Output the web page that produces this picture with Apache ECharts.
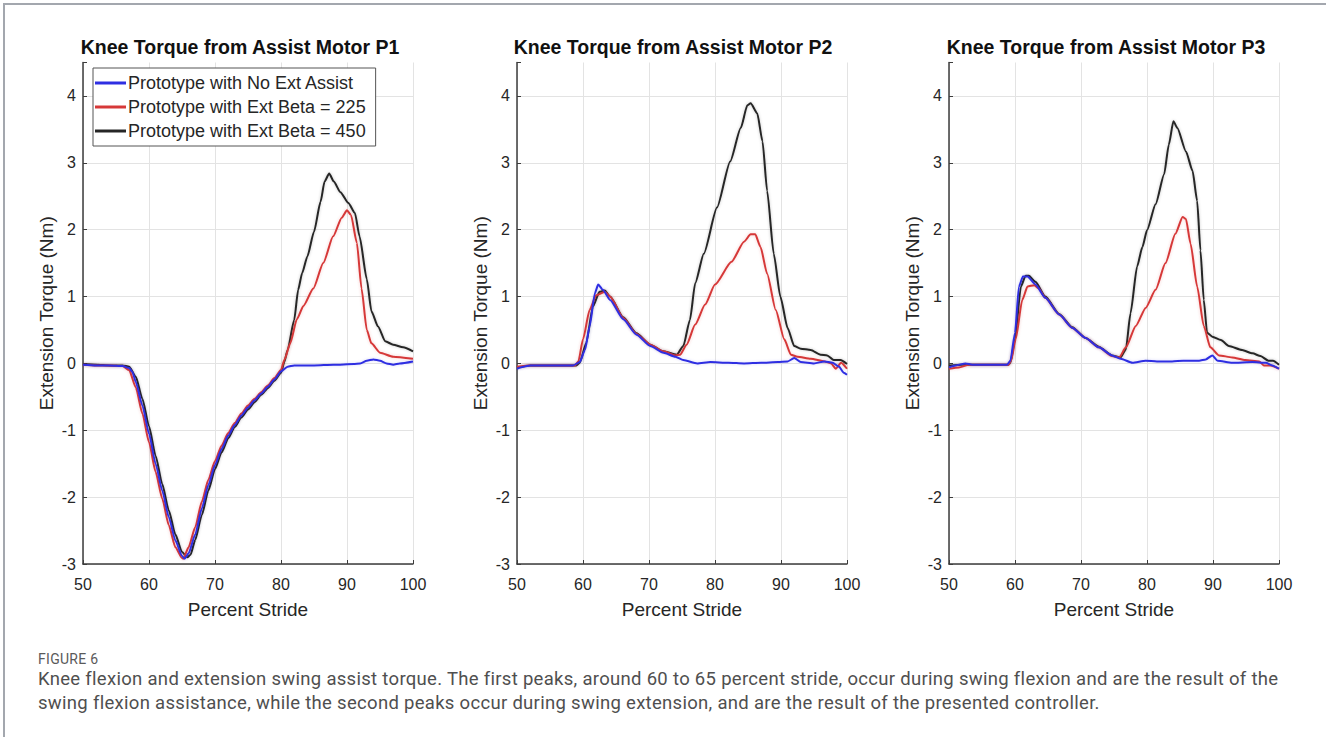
<!DOCTYPE html>
<html>
<head>
<meta charset="utf-8">
<script src="https://cdn.jsdelivr.net/npm/echarts@6/dist/echarts.min.js"></script>
<style>
html,body{margin:0;padding:0;background:#fff;}
#wrap{position:relative;width:1326px;height:737px;overflow:hidden;background:#fff;}
#chart{position:absolute;left:0;top:0;width:1326px;height:640px;}
#frame{position:absolute;left:3px;top:3px;width:1340px;height:750px;border-top:2px solid #a3a7ae;border-left:2px solid #a3a7ae;box-sizing:border-box;pointer-events:none;}
#fig{position:absolute;left:38px;top:651px;font-family:"Roboto","Liberation Sans",sans-serif;font-size:14px;color:#5a5a5a;letter-spacing:0.3px;}
#cap{position:absolute;left:38px;top:667px;font-family:"Roboto","Liberation Sans",sans-serif;font-size:18.5px;letter-spacing:0.3px;line-height:24px;color:#4f4f4f;white-space:nowrap;}
</style>
</head>
<body>
<div id="wrap">
  <div id="chart"></div>
  <div id="frame"></div>
  <div id="fig">FIGURE 6</div>
  <div id="cap">Knee flexion and extension swing assist torque. The first peaks, around 60 to 65 percent stride, occur during swing flexion and are the result of the<br>swing flexion assistance, while the second peaks occur during swing extension, and are the result of the presented controller.</div>
</div>
<script>
// ---------- data ----------
const panelTitles = ['Knee Torque from Assist Motor P1', 'Knee Torque from Assist Motor P2', 'Knee Torque from Assist Motor P3'];
const seriesNames = ['Prototype with No Ext Assist', 'Prototype with Ext Beta = 225', 'Prototype with Ext Beta = 450'];
const xAxisName = 'Percent Stride';
const yAxisName = 'Extension Torque (Nm)';
const strideTicks = [50, 60, 70, 80, 90, 100];
const torqueTicks = [-3, -2, -1, 0, 1, 2, 3, 4];

// Panel P1  [percent stride, torque]
const p1Blue = [[50,-0.02],[52,-0.03],[54,-0.03],[56,-0.04],[57,-0.07],[57.5,-0.13],[58,-0.28],[59,-0.63],[60,-1.05],[61,-1.5],[62,-1.9],[63,-2.3],[64,-2.65],[65,-2.88],[65.4,-2.92],[66,-2.84],[67,-2.56],[68,-2.17],[69,-1.82],[70,-1.52],[71,-1.28],[72,-1.08],[73,-0.92],[74,-0.78],[75,-0.66],[76,-0.55],[77,-0.45],[78,-0.35],[79,-0.24],[80,-0.12],[81,-0.05],[82,-0.03],[85,-0.03],[88,-0.02],[91,-0.01],[92,0.0],[93,0.04],[94,0.06],[95,0.04],[96,0.0],[97,-0.02],[98,0.0],[100,0.03]];
const p1Red = [[50,-0.02],[52,-0.03],[54,-0.03],[56,-0.04],[57,-0.1],[58,-0.36],[59,-0.75],[60,-1.18],[61,-1.62],[62,-2.02],[63,-2.42],[64,-2.75],[65,-2.91],[65.2,-2.92],[66,-2.75],[67,-2.45],[68,-2.07],[69,-1.74],[70,-1.46],[71,-1.23],[72,-1.04],[73,-0.89],[74,-0.75],[75,-0.63],[76,-0.53],[77,-0.43],[78,-0.33],[79,-0.22],[80,-0.1],[80.5,0.05],[81.4,0.3],[82.4,0.66],[83.4,0.86],[84.9,1.12],[86.4,1.5],[87.9,1.9],[89.2,2.18],[90,2.29],[90.6,2.22],[91.5,1.8],[92.2,1.12],[93,0.5],[93.7,0.3],[95,0.16],[97,0.1],[100,0.07]];
const p1Black = [[50,-0.01],[52,-0.02],[54,-0.03],[56,-0.03],[57,-0.05],[58,-0.2],[59,-0.53],[60,-0.94],[61,-1.38],[62,-1.8],[63,-2.2],[64,-2.56],[65,-2.82],[65.8,-2.9],[66.3,-2.86],[67,-2.64],[68,-2.27],[69,-1.9],[70,-1.58],[71,-1.33],[72,-1.12],[73,-0.95],[74,-0.81],[75,-0.69],[76,-0.58],[77,-0.47],[78,-0.37],[79,-0.26],[80,-0.14],[80.5,0.02],[81,0.2],[82,0.65],[82.6,1.1],[83.2,1.35],[84,1.6],[85,1.97],[86,2.42],[86.6,2.72],[87.3,2.84],[88,2.72],[89,2.56],[90.2,2.4],[91.2,2.25],[91.9,1.9],[93,1.26],[93.7,0.78],[94.7,0.55],[95.8,0.33],[97,0.28],[98.5,0.24],[100,0.18]];

// Panel P2
const p2Blue = [[50,-0.08],[51,-0.05],[52,-0.03],[55,-0.03],[58.5,-0.03],[59.5,0.02],[60.3,0.2],[61,0.55],[61.8,1.05],[62.3,1.18],[63,1.1],[64.1,0.95],[66.1,0.66],[68.1,0.43],[70.2,0.26],[72.2,0.16],[74,0.1],[75.2,0.05],[77.3,0.0],[79.3,0.02],[82,0.01],[84.4,0.0],[87,0.01],[89.5,0.02],[91,0.03],[92,0.08],[93,0.02],[95,0.0],[96.6,0.03],[97.8,0.01],[98.8,-0.05],[99.5,-0.14],[100,-0.17]];
const p2Red = [[50,-0.05],[52,-0.03],[58.8,-0.03],[59.3,0.03],[60,0.36],[61,0.8],[62,1.02],[63.3,1.07],[64.1,1.0],[66.1,0.68],[68.1,0.44],[70.2,0.28],[72.2,0.18],[74,0.12],[74.7,0.13],[75.7,0.28],[77,0.58],[78.5,0.88],[80,1.18],[82.5,1.52],[84.4,1.82],[85.4,1.93],[86.1,1.93],[86.9,1.74],[87.9,1.34],[89.2,0.8],[90.5,0.36],[91.5,0.13],[92.5,0.1],[94.5,0.07],[96.6,0.03],[97.6,0.0],[98.3,-0.08],[99.1,0.01],[100,-0.08]];
const p2Black = [[50,-0.06],[52,-0.03],[59,-0.03],[59.5,0.01],[60.5,0.31],[61.5,0.85],[62.5,1.07],[63.3,1.09],[64.1,1.0],[66.1,0.69],[68.1,0.45],[70.2,0.28],[72.2,0.18],[74.2,0.13],[75.2,0.26],[76.2,0.65],[77,1.2],[78.3,1.64],[80.3,2.33],[82.3,3.02],[83.9,3.52],[84.9,3.86],[85.4,3.89],[86.4,3.74],[87.2,3.32],[87.9,2.58],[88.9,1.64],[89.9,1.0],[91,0.53],[92,0.26],[93,0.22],[94.5,0.2],[96,0.13],[97,0.12],[98,0.05],[99,0.05],[100,-0.01]];

// Panel P3
const p3Blue = [[50,-0.06],[51,-0.03],[52.5,0.0],[53.5,-0.02],[58.8,-0.02],[59.3,0.04],[60,0.46],[60.6,1.15],[61.2,1.3],[61.9,1.3],[63.1,1.18],[64.6,0.98],[66.7,0.73],[68.7,0.53],[70.7,0.38],[72.7,0.24],[74.7,0.12],[76,0.07],[77.8,0.01],[79.8,0.04],[81.5,0.03],[83.8,0.03],[85.5,0.04],[87.9,0.04],[88.9,0.06],[89.9,0.12],[90.7,0.04],[92.9,0.01],[96,0.02],[98,0.01],[99,-0.03],[100,-0.08]];
const p3Red = [[50,-0.08],[51.5,-0.06],[53,-0.02],[59,-0.02],[59.4,0.04],[60.1,0.36],[61.1,0.95],[61.9,1.15],[62.9,1.17],[63.6,1.12],[64.6,0.98],[66.7,0.73],[68.7,0.53],[70.7,0.38],[72.7,0.24],[74.7,0.11],[75.8,0.09],[76.8,0.24],[78.3,0.56],[79.8,0.83],[81.3,1.1],[82.8,1.5],[84.3,1.94],[85.4,2.19],[85.9,2.16],[86.6,1.79],[87.6,1.15],[88.6,0.56],[89.6,0.24],[90.9,0.12],[92.9,0.09],[94.9,0.05],[97,0.03],[97.7,-0.03],[98.7,-0.03],[100,-0.08]];
const p3Black = [[50,-0.03],[52,-0.02],[59,-0.02],[59.3,0.01],[60,0.36],[60.9,1.15],[61.6,1.31],[62.1,1.31],[63.1,1.22],[64.6,1.0],[66.7,0.74],[68.7,0.54],[70.7,0.38],[72.7,0.25],[74.7,0.12],[76,0.09],[76.8,0.21],[77.5,0.75],[78.5,1.45],[79.3,1.74],[80,1.99],[81.3,2.38],[82.6,2.83],[83.3,3.27],[84,3.62],[84.6,3.52],[85.9,3.17],[86.9,2.88],[87.6,2.43],[88.1,1.69],[88.6,0.95],[89.1,0.46],[89.9,0.4],[91.2,0.35],[92.4,0.26],[94.4,0.2],[96,0.15],[97.2,0.11],[98.4,0.04],[99.1,0.04],[100,-0.02]];

// ---------- chart ----------
const FONT = '"Liberation Sans", Arial, sans-serif';
const panels = [
  {blue: p1Blue, red: p1Red, black: p1Black},
  {blue: p2Blue, red: p2Red, black: p2Black},
  {blue: p3Blue, red: p3Red, black: p3Black}
];
const gridLefts = [83, 517, 949];
const gridW = 330, gridTop = 62.5, gridH = 501.5;
const titleCenters = [240, 673, 1106];
const colors = {blue: '#2f2fe2', red: '#d63838', black: '#262626'};
const axisColor = '#3c3c3c';
const textColor = '#262626';

const grids = [], xAxes = [], yAxes = [], titles = [], series = [];
panels.forEach((p, i) => {
  grids.push({left: gridLefts[i], top: gridTop, width: gridW, height: gridH, containLabel: false});
  titles.push({
    text: panelTitles[i], left: titleCenters[i], top: 36.5, textAlign: 'center', padding: 0,
    textStyle: {fontFamily: FONT, fontSize: 19.5, fontWeight: 'bold', color: '#111'}
  });
  xAxes.push({
    type: 'value', gridIndex: i, min: strideTicks[0], max: strideTicks[strideTicks.length - 1], interval: 10,
    name: xAxisName, nameLocation: 'middle', nameGap: 36,
    nameTextStyle: {fontFamily: FONT, fontSize: 19, color: textColor},
    axisLine: {show: true, onZero: false, lineStyle: {color: axisColor, width: 1.5}},
    axisTick: {show: true, inside: true, length: 4, lineStyle: {color: axisColor}},
    axisLabel: {fontFamily: FONT, fontSize: 16, color: textColor, margin: 12},
    splitLine: {show: true, lineStyle: {color: '#e3e3e3', width: 1}}
  });
  yAxes.push({
    type: 'value', gridIndex: i, min: torqueTicks[0], max: 4.5, interval: 1,
    name: yAxisName, nameLocation: 'middle', nameGap: 27,
    nameTextStyle: {fontFamily: FONT, fontSize: 19, color: textColor},
    axisLine: {show: true, onZero: false, lineStyle: {color: axisColor, width: 1.5}},
    axisTick: {show: true, inside: true, length: 4, lineStyle: {color: axisColor}},
    axisLabel: {fontFamily: FONT, fontSize: 16, color: textColor, margin: 7,
      formatter: v => (torqueTicks.indexOf(v) >= 0 ? String(v) : '')},
    splitLine: {show: true, showMaxLine: false, lineStyle: {color: '#e3e3e3', width: 1}}
  });
  [['black', 2], ['red', 1], ['blue', 0]].forEach(([key, ni]) => {
    series.push({
      type: 'line', name: seriesNames[ni], xAxisIndex: i, yAxisIndex: i,
      data: p[key], showSymbol: false, symbol: 'none', smooth: 0.2, smoothMonotone: 'x',
      lineStyle: {color: colors[key], width: 2, shadowColor: key === 'black' ? 'rgba(0,0,0,0.22)' : (key === 'red' ? 'rgba(214,56,56,0.25)' : 'rgba(47,47,226,0.15)'), shadowBlur: 3},
      itemStyle: {color: colors[key]},
      emphasis: {disabled: true}, animation: false
    });
  });
});

const chart = echarts.init(document.getElementById('chart'), null, {renderer: 'svg'});
chart.setOption({
  animation: false,
  backgroundColor: 'transparent',
  title: titles,
  legend: {
    data: seriesNames.map(n => ({name: n, icon: 'rect'})), orient: 'vertical', left: 93, top: 68,
    padding: [6, 10, 6, 2], itemGap: 6, itemWidth: 31, itemHeight: 3,
    backgroundColor: '#fff', borderColor: '#555', borderWidth: 1,
    textStyle: {fontFamily: FONT, fontSize: 18, color: textColor, padding: [0, 0, 0, -3]},
    selectedMode: false
  },
  grid: grids, xAxis: xAxes, yAxis: yAxes, series: series
});
</script>
</body>
</html>
